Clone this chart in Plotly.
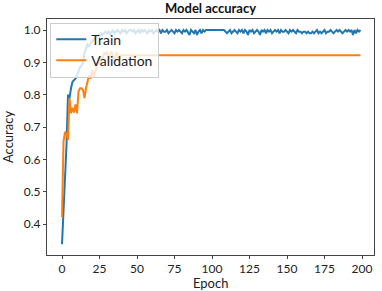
import plotly.graph_objects as go

train_acc = [
    0.338, 0.44, 0.55, 0.645, 0.80, 0.79, 0.82, 0.84, 0.845, 0.85,
    0.86, 0.875, 0.885, 0.89, 0.90, 0.93, 0.94, 0.955, 0.95, 0.96,
    0.965, 0.97, 0.975, 0.98, 0.985, 0.98, 0.99, 0.985, 0.99, 0.995,
    0.99, 0.995, 0.985, 0.995, 1.0, 0.99, 0.995, 1.0, 0.995, 0.99,
    1.0, 0.995, 1.0, 0.99, 0.995, 1.0, 1.0, 0.995, 1.0, 0.99,
    0.995, 1.0, 0.99, 1.0, 0.995, 1.0, 0.995, 0.99, 1.0, 0.995,
    1.0, 0.99, 0.995, 1.0, 0.995, 1.0, 0.99, 1.0, 0.995, 0.995,
    1.0, 0.99, 0.995, 1.0, 0.995, 0.99, 1.0, 0.995, 1.0, 0.995,
    0.99, 1.0, 0.995, 1.0, 0.99, 0.985, 1.0, 0.995, 0.99, 1.0,
    0.985, 0.995, 1.0, 0.99, 1.0, 0.995, 1.0, 1.0, 1.0, 1.0,
    1.0, 1.0, 1.0, 1.0, 1.0, 1.0, 1.0, 1.0, 1.0, 0.995,
    0.99, 0.995, 1.0, 0.99, 0.995, 1.0, 0.995, 0.99, 1.0, 0.995,
    1.0, 0.99, 1.0, 0.995, 0.985, 1.0, 0.995, 1.0, 0.99, 0.995,
    1.0, 0.995, 0.985, 1.0, 0.995, 1.0, 0.99, 1.0, 0.995, 1.0,
    0.99, 0.995, 1.0, 0.995, 1.0, 0.99, 1.0, 0.995, 0.995, 1.0,
    0.995, 0.99, 1.0, 0.995, 1.0, 0.995, 0.99, 1.0, 0.995, 0.995,
    0.99, 0.995, 0.995, 0.99, 0.995, 0.99, 0.99, 0.995, 0.99, 0.995,
    1.0, 0.99, 0.995, 0.99, 0.995, 1.0, 0.99, 0.995, 0.995, 1.0,
    0.995, 0.99, 0.995, 1.0, 0.995, 1.0, 0.995, 0.99, 0.995, 1.0,
    0.995, 1.0, 0.995, 1.0, 0.985, 1.0, 0.99, 1.0, 0.995, 1.0,
]

val_acc_early = [
    0.422, 0.654, 0.685, 0.68, 0.66, 0.79, 0.743, 0.76, 0.745, 0.77,
    0.743, 0.81, 0.82, 0.82, 0.815, 0.79, 0.82, 0.84, 0.86, 0.85,
    0.876, 0.855, 0.87, 0.89, 0.90, 0.895, 0.917, 0.91, 0.93, 0.925,
    0.933, 0.90, 0.925, 0.933, 0.92, 0.90, 0.93, 0.925, 0.90, 0.922,
]
val_plateau = 0.922
val_acc = val_acc_early + [val_plateau] * (len(train_acc) - len(val_acc_early))

epochs = list(range(len(train_acc)))

x_ticks = [0, 25, 50, 75, 100, 125, 150, 175, 200]
y_ticks = [0.4, 0.5, 0.6, 0.7, 0.8, 0.9, 1.0]

fig = go.Figure()
fig.add_trace(go.Scatter(x=epochs, y=train_acc, mode="lines", name="Train",
                         line=dict(color="#1f77b4", width=2)))
fig.add_trace(go.Scatter(x=epochs, y=val_acc, mode="lines", name="Validation",
                         line=dict(color="#ff7f0e", width=2)))

axis_common = dict(showgrid=False, zeroline=False, showline=True, mirror=True,
                   linecolor="#444", linewidth=1, ticks="outside", ticklen=3,
                   tickcolor="#444", tickfont=dict(size=12, color="#222"),
                   automargin=False)

fig.update_layout(
    width=382, height=291,
    margin=dict(l=47, r=8, t=19, b=36),
    paper_bgcolor="white", plot_bgcolor="white",
    font=dict(family="Lato, Open Sans, sans-serif", color="#222"),
    title=dict(text="<b>Model accuracy</b>", x=(47 + 374) / 2 / 382, xanchor="center",
               y=0.972, yanchor="middle", font=dict(size=13, color="#111"),
               automargin=False),
    xaxis=dict(range=[-10, 208], tickvals=x_ticks, **axis_common),
    yaxis=dict(range=[0.305, 1.034], tickvals=y_ticks, tickformat=".1f",
               title=dict(text="Accuracy", font=dict(size=13)), **axis_common),
    legend=dict(x=0.01, y=0.985, xanchor="left", yanchor="top",
                bgcolor="rgba(255,255,255,0.8)", bordercolor="#ccc", borderwidth=1,
                font=dict(size=14, color="#222"), itemwidth=30, tracegroupgap=0),
    showlegend=True,
)
fig.add_annotation(text="Epoch", xref="paper", yref="paper", x=0.5, y=-0.118,
                   xanchor="center", yanchor="middle", showarrow=False,
                   font=dict(size=13, color="#222"))

fig.write_html("out.html", config={"displayModeBar": False},
               post_script="document.body.style.margin='0';document.body.style.overflow='hidden';")
